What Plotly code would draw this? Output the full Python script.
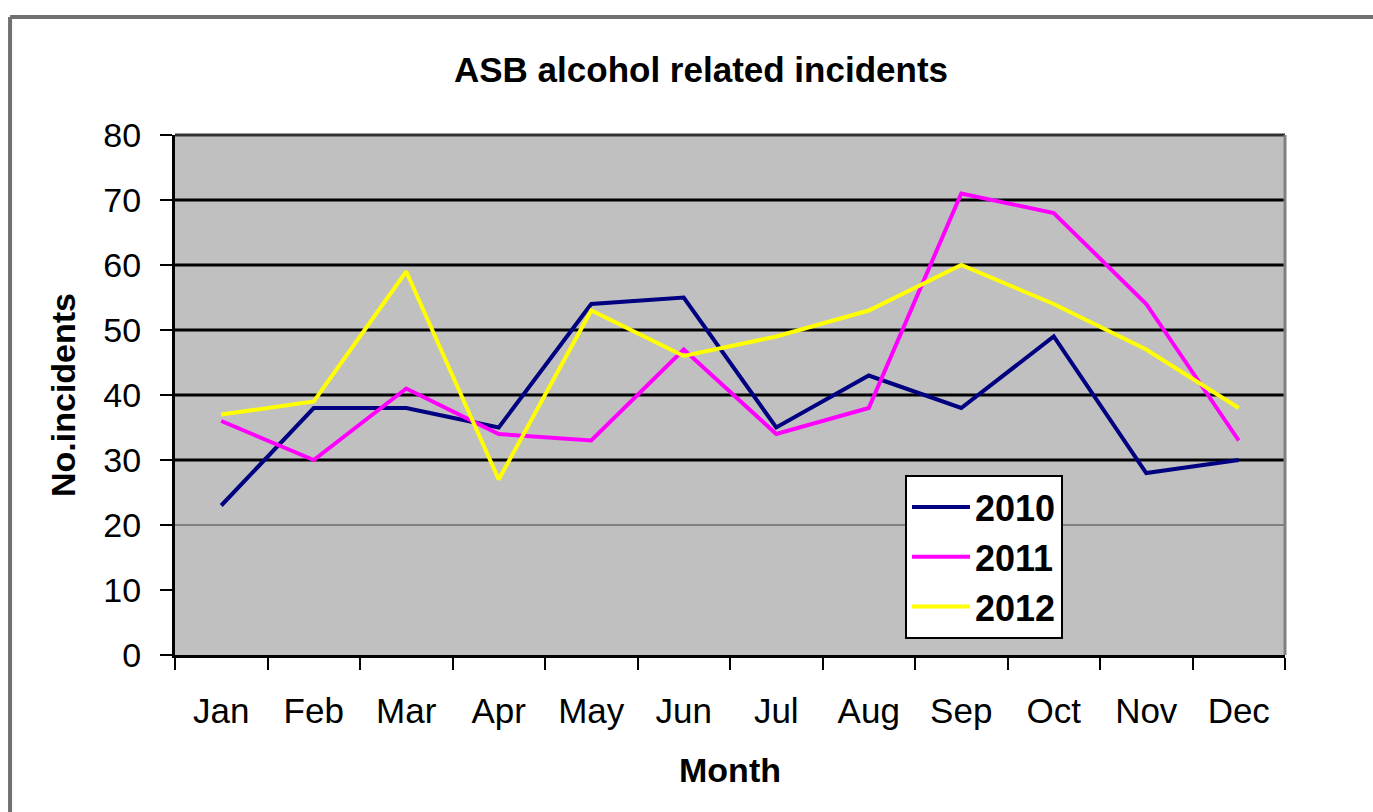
import plotly.graph_objects as go

months = ["Jan", "Feb", "Mar", "Apr", "May", "Jun", "Jul", "Aug", "Sep", "Oct", "Nov", "Dec"]
y2010 = [23, 38, 38, 35, 54, 55, 35, 43, 38, 49, 28, 30]
y2011 = [36, 30, 41, 34, 33, 47, 34, 38, 71, 68, 54, 33]
y2012 = [37, 39, 59, 27, 53, 46, 49, 53, 60, 54, 47, 38]
series_names = ["2010", "2011", "2012"]
colors = ["#000080", "#FF00FF", "#FFFF00"]
y_ticks = [0, 10, 20, 30, 40, 50, 60, 70, 80]

FONT = "Liberation Sans, Arial, sans-serif"

fig = go.Figure()
for name, vals, col in zip(series_names, [y2010, y2011, y2012], colors):
    fig.add_trace(go.Scatter(
        x=months, y=vals, name=name, mode="lines",
        line=dict(color=col, width=4),
        legendgroup=name,
    ))

# gridlines (black for 30..70, gray for 20)
for g in [30, 40, 50, 60, 70]:
    fig.add_shape(type="line", xref="paper", yref="y", x0=0, x1=1, y0=g, y1=g,
                  line=dict(color="black", width=3), layer="below")
fig.add_shape(type="line", xref="paper", yref="y", x0=0, x1=1, y0=20, y1=20,
              line=dict(color="#808080", width=2), layer="below")
# top border of plot (80) and right border
fig.add_shape(type="line", xref="paper", yref="paper", x0=0, x1=1, y0=1, y1=1,
              line=dict(color="#303030", width=3))
fig.add_shape(type="line", xref="paper", yref="paper", x0=1, x1=1, y0=0, y1=1,
              line=dict(color="#808080", width=3))
# outer chart frame (left and top)
fig.add_shape(type="line", xref="paper", yref="paper", x0=-0.1486, x1=-0.1486, y0=-0.4, y1=1.2269,
              line=dict(color="#707070", width=4))
fig.add_shape(type="line", xref="paper", yref="paper", x0=-0.1486, x1=1.2, y0=1.2269, y1=1.2269,
              line=dict(color="#707070", width=4))

fig.update_layout(
    width=1373, height=812,
    margin=dict(l=175, r=88, t=135, b=157),
    paper_bgcolor="white",
    plot_bgcolor="#C0C0C0",
    font=dict(family=FONT, color="black"),
    title=dict(text="<b>ASB alcohol related incidents</b>", x=(701 - 175) / 1110, xanchor="center",
               xref="paper", y=1 - 70 / 812, yanchor="middle",
               font=dict(size=35, family=FONT, color="black")),
    showlegend=True,
    legend=dict(
        x=(905 - 175) / 1110, y=(655 - 475) / 520, xanchor="left", yanchor="top",
        bgcolor="white", bordercolor="black", borderwidth=2,
        font=dict(size=36, family=FONT, color="black", weight="bold"),
        tracegroupgap=0, itemwidth=58,
    ),
    xaxis=dict(
        type="category",
        showgrid=False, zeroline=False,
        showline=True, linecolor="black", linewidth=3,
        ticks="outside", tickson="boundaries", ticklen=12, tickwidth=2, tickcolor="black",
        tickfont=dict(size=35, family=FONT, color="black"),
        ticklabelstandoff=23,
        title=dict(text="<b>Month</b>", font=dict(size=34, family=FONT, color="black"), standoff=30),
        range=[-0.5, 11.5],
    ),
    yaxis=dict(
        range=[0, 80], tickvals=y_ticks,
        showgrid=False, zeroline=False,
        showline=True, linecolor="black", linewidth=3,
        ticks="outside", ticklen=12, tickwidth=2, tickcolor="black",
        tickfont=dict(size=34, family=FONT, color="black"),
        ticklabelstandoff=12,
        title=dict(text="<b>No.incidents</b>", font=dict(size=34, family=FONT, color="black"), standoff=18),
    ),
)

fig.write_html("out.html", config={"displayModeBar": False},
               post_script="document.body.style.margin='0';document.body.style.overflow='hidden';")
